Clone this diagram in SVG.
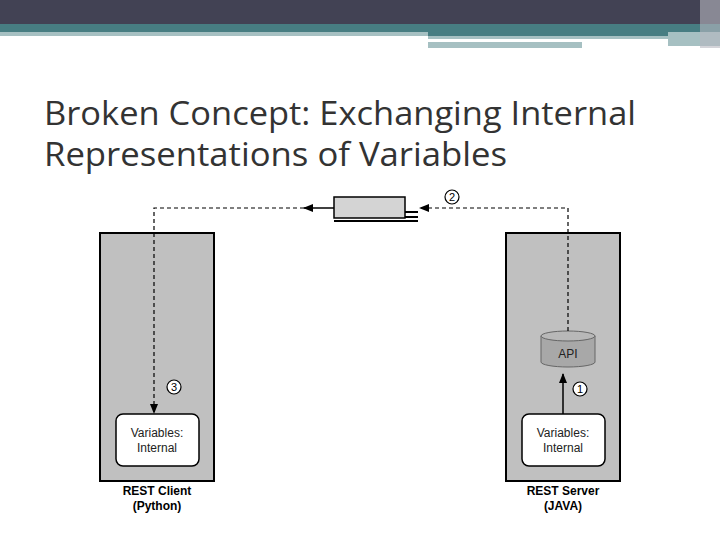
<svg xmlns="http://www.w3.org/2000/svg" width="720" height="540" viewBox="0 0 720 540">
<style>
.panel{fill:#c0c0c0;stroke:#000;stroke-width:2}
.inner{fill:#fff;stroke:#000;stroke-width:1.5}
.t{font-family:"Liberation Sans",Arial,sans-serif;font-size:12px;fill:#222;text-anchor:middle}
.b{font-family:"Liberation Sans",Arial,sans-serif;font-size:12px;font-weight:bold;fill:#000;text-anchor:middle}
.dash{fill:none;stroke:#000;stroke-width:1.2;stroke-dasharray:4,3}
.num{fill:#fff;stroke:#000;stroke-width:1.2}
.nt{font-family:"Liberation Sans",Arial,sans-serif;font-size:11px;fill:#000;text-anchor:middle}
.title{font-family:"Open Sans","DejaVu Sans",sans-serif;font-size:32px;fill:#333}
</style>
<defs>
<marker id="ah" markerWidth="10" markerHeight="8" refX="9" refY="4" orient="auto" markerUnits="userSpaceOnUse"><path d="M0,0 L10,4 L0,8 Z" fill="#000"/></marker>
</defs>
<rect width="720" height="540" fill="#fff"/>
<rect x="0" y="0" width="720" height="24" fill="#424254"/>
<rect x="0" y="24" width="720" height="8" fill="#477d82"/>
<rect x="0" y="32" width="428" height="4" fill="#a6c0c2"/>
<rect x="428" y="32" width="292" height="4" fill="#477d82"/>
<rect x="428" y="36" width="240" height="3" fill="#a6c0c2"/>
<rect x="428" y="42" width="154" height="6" fill="#a6c0c2"/>
<rect x="668" y="32" width="52" height="14" fill="#a6c0c2"/>
<rect x="700" y="0" width="20" height="48" fill="#b8b8c0" opacity="0.6"/>
<text class="title" x="44" y="125" textLength="592" lengthAdjust="spacingAndGlyphs">Broken Concept: Exchanging Internal</text>
<text class="title" x="44" y="166" textLength="463" lengthAdjust="spacingAndGlyphs">Representations of Variables</text>
<g id="client">
<rect class="panel" x="100" y="233" width="114" height="248"/>
<rect class="inner" x="116" y="414" width="83" height="52" rx="7"/>
<text class="t" x="157" y="437">Variables:</text>
<text class="t" x="157" y="452">Internal</text>
<text class="b" x="157" y="495">REST Client</text>
<text class="b" x="157" y="510">(Python)</text>
</g>
<g id="server">
<rect class="panel" x="506" y="233" width="114" height="248"/>
<rect class="inner" x="522" y="414" width="83" height="52" rx="7"/>
<text class="t" x="563" y="437">Variables:</text>
<text class="t" x="563" y="452">Internal</text>
<text class="b" x="563" y="495">REST Server</text>
<text class="b" x="563" y="510">(JAVA)</text>
</g>
<g id="api">
<path d="M541,336 L541,362 A27,5 0 0 0 595,362 L595,336" fill="#a8a8a8" stroke="#666"/>
<ellipse cx="568" cy="336" rx="27" ry="5" fill="#b8b8b8" stroke="#666"/>
<text class="t" x="568" y="358">API</text>
</g>
<g id="message">
<rect x="334" y="197" width="71" height="21" fill="#d4d4d4" stroke="#000" stroke-width="1.5"/>
<path d="M405,212 H418 M405,217 H418 M334,221 H418" stroke="#000" stroke-width="2"/>
</g>
<g id="connectors">
<path class="dash" d="M568,331 V208 H420" marker-end="url(#ah)"/>
<path d="M334,208 H304" stroke="#000" stroke-width="1.5" marker-end="url(#ah)"/>
<path class="dash" d="M304,208 H154 V413" marker-end="url(#ah)"/>
<path d="M563,414 V374" stroke="#000" stroke-width="1.5" marker-end="url(#ah)"/>
</g>
<g id="labels">
<circle class="num" cx="452" cy="197" r="7"/><text class="nt" x="452" y="201">2</text>
<circle class="num" cx="174" cy="387" r="7"/><text class="nt" x="174" y="391">3</text>
<circle class="num" cx="580" cy="389" r="7"/><text class="nt" x="580" y="393">1</text>
</g>
</svg>
